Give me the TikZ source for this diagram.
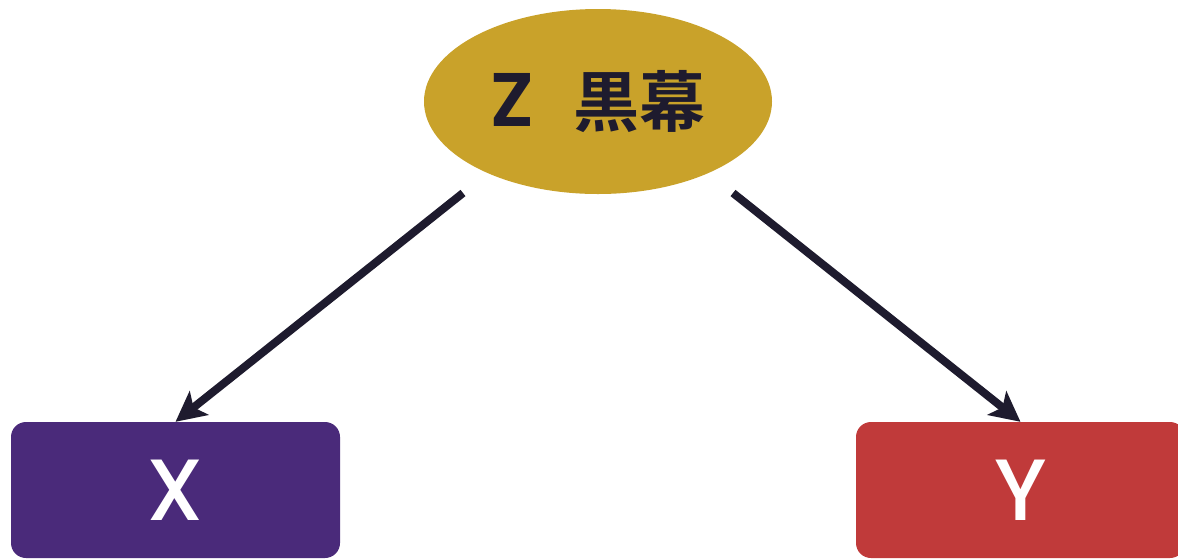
\documentclass[tikz,border=0pt]{standalone}
\usepackage{fontspec}
\newfontfamily\jpfont{Noto Sans CJK JP Bold}
\newfontfamily\zfont{Poppins SemiBold}
\newfontfamily\latfont{Poppins Medium}
\usetikzlibrary{shapes.geometric,arrows.meta}
\definecolor{gold}{HTML}{C9A22A}
\definecolor{purp}{HTML}{4A2A7A}
\definecolor{redb}{HTML}{C03A3A}
\definecolor{ink}{HTML}{1E1B2E}
\tikzset{
  conf/.style={ellipse, fill=gold, draw=none, minimum width=348pt, minimum height=185pt, inner sep=0pt, text=ink},
  varbox/.style={rectangle, rounded corners=15pt, draw=none, minimum width=329pt, minimum height=136pt, inner sep=0pt, text=white, font=\latfont\fontsize{87}{95}\selectfont},
  arr/.style={draw=ink, line width=8pt, -{Stealth[length=30pt,width=30pt,inset=7pt]}}
}
\begin{document}
\begin{tikzpicture}[x=1pt,y=-1pt]
\clip (0,0) rectangle (1178,558);
\fill[white] (0,0) rectangle (1178,558);
\node[conf] (z) at (598,101.5) {{\zfont\fontsize{76}{80}\selectfont Z}\hspace{40pt}{\jpfont\fontsize{66}{80}\selectfont 黒幕}};
\node[varbox, fill=purp] (x) at (175.5,490) {X};
\node[varbox, fill=redb] (y) at (1020.5,490) {Y};
\coordinate (zl) at (463,193);
\coordinate (zr) at (733,193);
\draw[arr] (zl) -- (x.north);
\draw[arr] (zr) -- (y.north);
\end{tikzpicture}
\end{document}
